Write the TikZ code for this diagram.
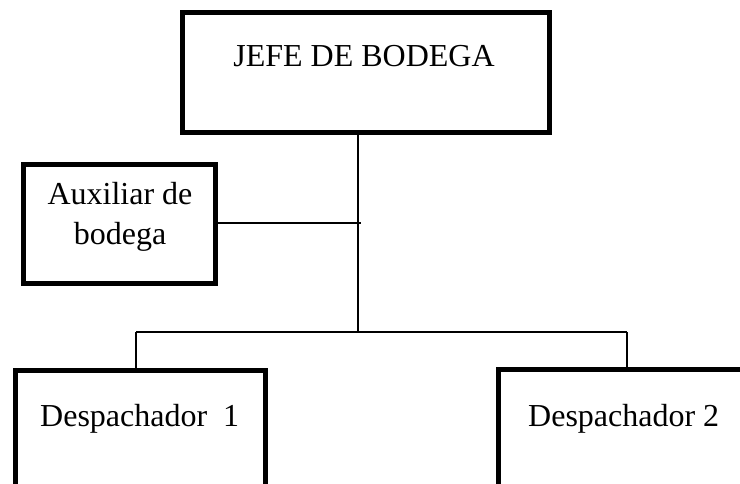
\documentclass[tikz,border=0pt]{standalone}
\usepackage{fontspec}
\setmainfont{Liberation Serif}
\begin{document}
\begin{tikzpicture}[x=1pt,y=-1pt,
  box/.style={draw, line width=5pt, inner sep=0pt, minimum width=#1},
  conn/.style={line width=2.2pt},
  lbl/.style={font=\fontsize{32}{40}\selectfont, inner sep=0pt}]
\useasboundingbox (0,0) rectangle (740,484);
\clip (0,0) rectangle (740,484);
% boxes
\node[box=367pt, minimum height=120pt] (jefe) at (366,72.5) {};
\node[box=192.5pt, minimum height=119.3pt] (aux) at (119.25,224.35) {};
\node[box=250.5pt, minimum height=150pt] (desp1) at (140.25,445) {};
\node[box=301.7pt, minimum height=151pt] (desp2) at (649.15,444.5) {};
% texts
\node[lbl, anchor=base] (jefet) at (364,67) {JEFE DE BODEGA};
\node[lbl, anchor=base, align=center] (auxt) at (120,245) {Auxiliar de\\bodega};
\node[lbl, anchor=base west] (desp1t) at (40,426) {Despachador\ \ 1};
\node[lbl, anchor=base west] (desp2t) at (528,426) {Despachador 2};
% connectors
\coordinate (junc) at (358,332);
\coordinate (auxj) at (361,223);
\coordinate (busL) at (136,332);
\coordinate (busR) at (627,332);
\draw[conn] (jefe.south -| junc) -- (junc);
\draw[conn] (aux.east |- auxj) -- (auxj);
\draw[conn] (busL) -- (busR);
\draw[conn] (busL) -- (busL |- desp1.north);
\draw[conn] (busR) -- (busR |- desp2.north);
\end{tikzpicture}
\end{document}
